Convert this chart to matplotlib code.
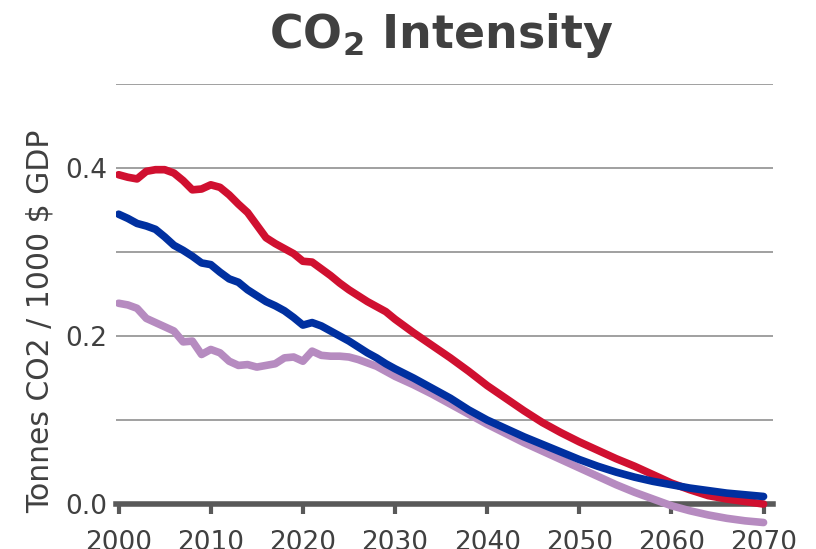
import numpy as np
import matplotlib.pyplot as plt
from matplotlib.ticker import MultipleLocator

plt.rcParams['font.family'] = ['DejaVu Sans']
plt.rcParams['mathtext.fontset'] = 'dejavusans'

# years: annual history to 2030, then 2-year steps of the projection
years = list(range(2000, 2031)) + list(range(2032, 2071, 2))

red = [0.392, 0.389, 0.387, 0.396, 0.398, 0.398, 0.394, 0.385, 0.374, 0.375,
       0.380, 0.377, 0.368, 0.357, 0.347, 0.332, 0.317, 0.310, 0.304, 0.298,
       0.289, 0.288, 0.280, 0.272, 0.263, 0.255, 0.248, 0.241, 0.235, 0.229,
       0.220,
       0.204, 0.189, 0.174, 0.158, 0.141, 0.126, 0.111, 0.097, 0.085, 0.074,
       0.064, 0.054, 0.045, 0.035, 0.025, 0.017, 0.010, 0.006, 0.003, 0.000]

blue = [0.345, 0.340, 0.334, 0.331, 0.327, 0.318, 0.308, 0.302, 0.295, 0.287,
        0.285, 0.276, 0.268, 0.264, 0.255, 0.248, 0.241, 0.236, 0.230, 0.222,
        0.213, 0.216, 0.212, 0.206, 0.200, 0.194, 0.187, 0.180, 0.174, 0.167,
        0.161,
        0.150, 0.138, 0.126, 0.112, 0.100, 0.090, 0.080, 0.071, 0.062, 0.053,
        0.045, 0.038, 0.032, 0.027, 0.023, 0.019, 0.016, 0.013, 0.011, 0.009]

purple = [0.239, 0.237, 0.233, 0.221, 0.216, 0.211, 0.206, 0.193, 0.194, 0.178,
          0.184, 0.180, 0.170, 0.165, 0.166, 0.163, 0.165, 0.167, 0.174, 0.175,
          0.170, 0.182, 0.177, 0.176, 0.176, 0.175, 0.172, 0.168, 0.164, 0.158,
          0.152,
          0.142, 0.131, 0.119, 0.107, 0.095, 0.084, 0.073, 0.063, 0.053, 0.043,
          0.033, 0.023, 0.014, 0.006, -0.002, -0.008, -0.013, -0.017, -0.020, -0.022]

x_ticks = [2000, 2010, 2020, 2030, 2040, 2050, 2060, 2070]
y_ticks = [0.0, 0.2, 0.4]

fig = plt.figure(figsize=(8.16, 5.49), dpi=100)
ax = fig.add_axes([0.142, 0.036, 0.805, 0.811])

ax.plot(years, red, color='#D01030', linewidth=5.5, solid_capstyle='round',
        solid_joinstyle='round', zorder=4)
ax.plot(years, purple, color='#B68BC0', linewidth=5.5, solid_capstyle='round',
        solid_joinstyle='round', zorder=3)
ax.plot(years, blue, color='#0030A0', linewidth=5.5, solid_capstyle='round',
        solid_joinstyle='round', zorder=5)

ax.set_xlim(1999.7, 2071)
ax.set_ylim(-0.03, 0.5)

ax.set_yticks(y_ticks)
ax.set_yticklabels(['0.0', '0.2', '0.4'])
ax.yaxis.set_minor_locator(MultipleLocator(0.1))
ax.grid(axis='y', which='both', color='#999999', linewidth=1.3, zorder=1)
ax.set_axisbelow(True)

ax.set_xticks(x_ticks)

for s in ['top', 'right', 'left']:
    ax.spines[s].set_visible(False)
ax.spines['bottom'].set_position(('data', 0))
ax.spines['bottom'].set_color('#595959')
ax.spines['bottom'].set_linewidth(4)
ax.spines['bottom'].set_zorder(2)

ax.tick_params(axis='x', direction='out', length=7, width=3, color='#595959',
               pad=12, labelsize=19, labelcolor='#404040')
ax.tick_params(axis='y', which='both', length=0, pad=6, labelsize=19, labelcolor='#404040')

ax.set_ylabel('Tonnes CO2 / 1000 $ GDP', fontsize=21.5, color='#404040')
ax.yaxis.set_label_coords(-0.093, 0.467)

fig.text(0.54, 0.935, r'CO$_\mathbf{2}$ Intensity', fontsize=33, fontweight='bold',
         color='#404040', ha='center', va='center')

fig.savefig('out.png', dpi=100)
